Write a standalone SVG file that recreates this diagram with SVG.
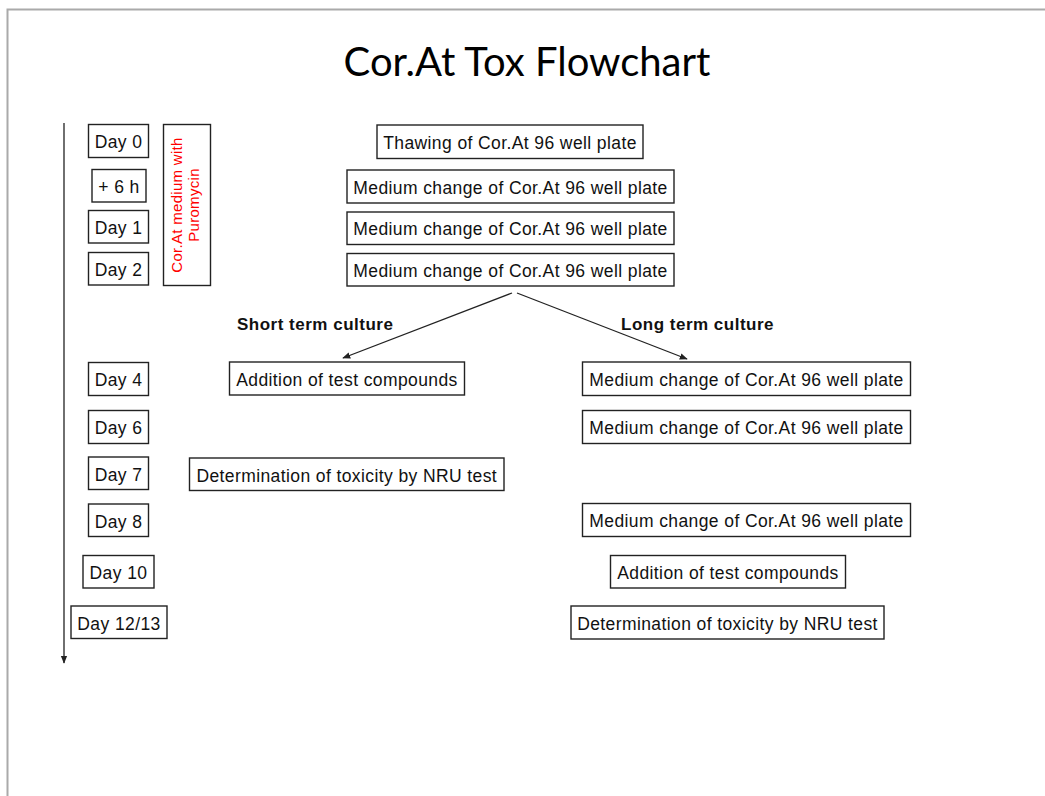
<svg xmlns="http://www.w3.org/2000/svg" width="1045" height="796" viewBox="0 0 1045 796">
<defs>
<style>
.box{fill:#fff;stroke:#222;stroke-width:1.4}
.t{font-family:"Liberation Sans",Arial,sans-serif;font-size:17.5px;letter-spacing:0.4px;fill:#111;text-anchor:middle}
.b{font-family:"Liberation Sans",Arial,sans-serif;font-size:17px;font-weight:bold;letter-spacing:0.5px;fill:#111}
.red{font-family:"Liberation Sans",Arial,sans-serif;font-size:15px;letter-spacing:0.3px;fill:#f00;text-anchor:middle}
.ln{stroke:#222;stroke-width:1.3;fill:none}
</style>
<marker id="ah" viewBox="0 0 10 10" refX="9" refY="5" markerWidth="8" markerHeight="8" markerUnits="userSpaceOnUse" orient="auto">
<path d="M0,1 L10,5 L0,9 Z" fill="#222"/>
</marker>
</defs>
<rect width="1045" height="796" fill="#fff"/>
<path d="M7.5,796 V9.5 H1045" stroke="#aaa" stroke-width="2" fill="none"/>
<text x="527" y="76" font-family="Lato,'Open Sans',sans-serif" font-size="40" text-anchor="middle" fill="#000">Cor.At Tox Flowchart</text>

<g id="connectors">
<line class="ln" x1="64" y1="123" x2="64" y2="663" marker-end="url(#ah)"/>
<line class="ln" x1="512" y1="293" x2="343" y2="358" marker-end="url(#ah)"/>
<line class="ln" x1="517" y1="293" x2="687" y2="359" marker-end="url(#ah)"/>
</g>

<g id="day0"><rect class="box" x="88.5" y="124.5" width="60" height="33"/><text class="t" x="118.5" y="148">Day 0</text></g>
<g id="plus6h"><rect class="box" x="92" y="169.5" width="54" height="32.5"/><text class="t" x="119" y="192.5">+ 6 h</text></g>
<g id="day1"><rect class="box" x="88.5" y="210.5" width="60" height="32.5"/><text class="t" x="118.5" y="233.5">Day 1</text></g>
<g id="day2"><rect class="box" x="88.5" y="252.5" width="60" height="32.5"/><text class="t" x="118.5" y="275.5">Day 2</text></g>
<g id="medium-puro"><rect class="box" x="163.5" y="124.5" width="47" height="161"/>
<text class="red" transform="translate(181.5,205) rotate(-90)"><tspan x="0" y="0">Cor.At medium with</tspan><tspan x="0" y="17.5">Puromycin</tspan></text></g>

<g id="thaw"><rect class="box" x="377" y="125" width="266" height="33.5"/><text class="t" x="510" y="148.5">Thawing of Cor.At 96 well plate</text></g>
<g id="mc6h"><rect class="box" x="347" y="170" width="327" height="33"/><text class="t" x="510.5" y="193.5">Medium change of Cor.At 96 well plate</text></g>
<g id="mc1"><rect class="box" x="347" y="212" width="327" height="32.5"/><text class="t" x="510.5" y="235">Medium change of Cor.At 96 well plate</text></g>
<g id="mc2"><rect class="box" x="347" y="253.5" width="327" height="32.5"/><text class="t" x="510.5" y="276.5">Medium change of Cor.At 96 well plate</text></g>

<text class="b" x="237" y="330">Short term culture</text>
<text class="b" x="621" y="330">Long term culture</text>

<g id="day4"><rect class="box" x="88.5" y="362.5" width="60" height="33"/><text class="t" x="118.5" y="386">Day 4</text></g>
<g id="add-short"><rect class="box" x="229.5" y="362" width="235" height="33"/><text class="t" x="347" y="385.5">Addition of test compounds</text></g>
<g id="mc4"><rect class="box" x="582.5" y="362" width="328" height="33.5"/><text class="t" x="746.5" y="386">Medium change of Cor.At 96 well plate</text></g>

<g id="day6"><rect class="box" x="88.5" y="410.5" width="60" height="33"/><text class="t" x="118.5" y="434">Day 6</text></g>
<g id="mc6"><rect class="box" x="582.5" y="410.5" width="328" height="33"/><text class="t" x="746.5" y="434">Medium change of Cor.At 96 well plate</text></g>

<g id="day7"><rect class="box" x="88.5" y="457" width="60" height="32.5"/><text class="t" x="118.5" y="480.5">Day 7</text></g>
<g id="nru-short"><rect class="box" x="189.5" y="458" width="314.5" height="32.5"/><text class="t" x="346.75" y="481.5">Determination of toxicity by NRU test</text></g>

<g id="day8"><rect class="box" x="88.5" y="504" width="60" height="32.5"/><text class="t" x="118.5" y="527.5">Day 8</text></g>
<g id="mc8"><rect class="box" x="582.5" y="503.5" width="328" height="33"/><text class="t" x="746.5" y="527">Medium change of Cor.At 96 well plate</text></g>

<g id="day10"><rect class="box" x="83" y="555.5" width="71" height="32.5"/><text class="t" x="118.5" y="579">Day 10</text></g>
<g id="add-long"><rect class="box" x="610.5" y="555.5" width="235" height="32.5"/><text class="t" x="728" y="579">Addition of test compounds</text></g>

<g id="day1213"><rect class="box" x="71" y="606" width="96" height="32.5"/><text class="t" x="119" y="629.5">Day 12/13</text></g>
<g id="nru-long"><rect class="box" x="571" y="606" width="313" height="33"/><text class="t" x="727.5" y="629.5">Determination of toxicity by NRU test</text></g>
</svg>
